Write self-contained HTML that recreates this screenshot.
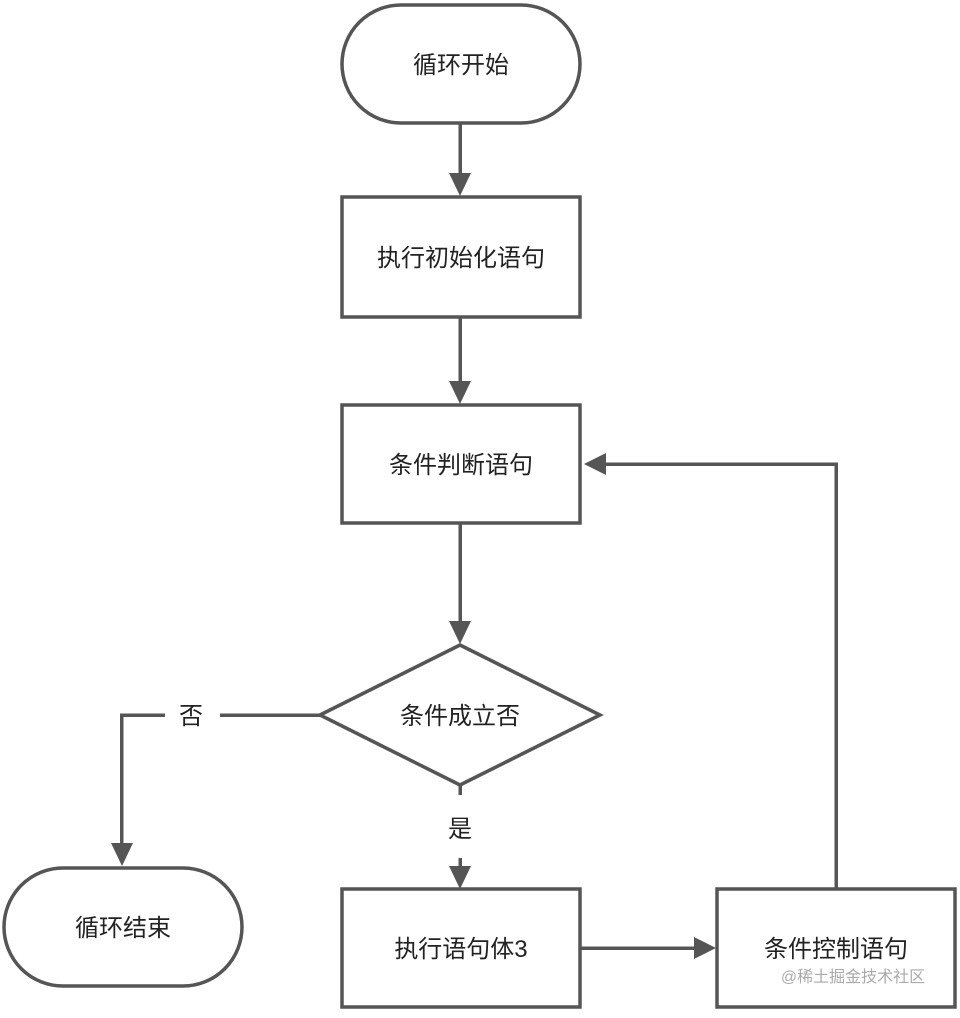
<!DOCTYPE html>
<html><head><meta charset="utf-8"><style>
html,body{margin:0;padding:0;background:#fff;}
svg text{font-family:"Liberation Sans","Noto Sans CJK SC",sans-serif;font-size:24px;fill:#222;}
</style></head><body>
<svg width="960" height="1013" viewBox="0 0 960 1013" xmlns="http://www.w3.org/2000/svg">
<defs><marker id="a" markerWidth="8" markerHeight="8" refX="7" refY="4" orient="auto" markerUnits="userSpaceOnUse" viewBox="0 0 8 8"><path d="M0,0 L8,4 L0,8z" fill="#555"/></marker></defs>
<g fill="none" stroke="#555" stroke-width="3.5">
<rect x="342" y="5" width="238" height="118" rx="59"/>
<rect x="342" y="197" width="238" height="120"/>
<rect x="342" y="405" width="238" height="118"/>
<polygon points="320,715 460,645 600,715 460,785" fill="#fff"/>
<rect x="4" y="868" width="238" height="118" rx="59"/>
<rect x="342" y="889" width="238" height="118"/>
<rect x="717" y="889" width="238" height="118"/>
</g>
<g fill="#555">
<rect x="458.5" y="123" width="3.5" height="52"/><path d="M449,173 L471,173 L460,196z"/>
<rect x="458.5" y="317" width="3.5" height="66"/><path d="M449,381 L471,381 L460,404z"/>
<rect x="458.5" y="523" width="3.5" height="100"/><path d="M449,621 L471,621 L460,644z"/>
<rect x="220" y="713.5" width="100" height="3.5"/>
<rect x="120" y="713.5" width="45" height="3.5"/>
<rect x="120" y="713.5" width="3.5" height="130"/><path d="M111,843 L133,843 L122,866z"/>
<rect x="458.5" y="785" width="3.5" height="10"/>
<rect x="458.5" y="858" width="3.5" height="10"/><path d="M449,866 L471,866 L460,889z"/>
<rect x="580" y="946.5" width="115" height="3.5"/><path d="M694,937 L694,959 L716,948z"/>
<rect x="834.5" y="462.5" width="3.5" height="426"/>
<rect x="605" y="462.5" width="233" height="3.5"/><path d="M606,453 L606,475 L584,464z"/>
</g>
<g text-anchor="middle">
<text x="461" y="73">循环开始</text>
<text x="461" y="266">执行初始化语句</text>
<text x="461" y="473">条件判断语句</text>
<text x="460" y="724">条件成立否</text>
<text x="191" y="724">否</text>
<text x="460" y="837">是</text>
<text x="123" y="936">循环结束</text>
<text x="461" y="957">执行语句体3</text>
<text x="836" y="957">条件控制语句</text>
<text x="853" y="982" style="font-size:16px;fill:#aaa">@稀土掘金技术社区</text>
</g>
</svg>
</body></html>
